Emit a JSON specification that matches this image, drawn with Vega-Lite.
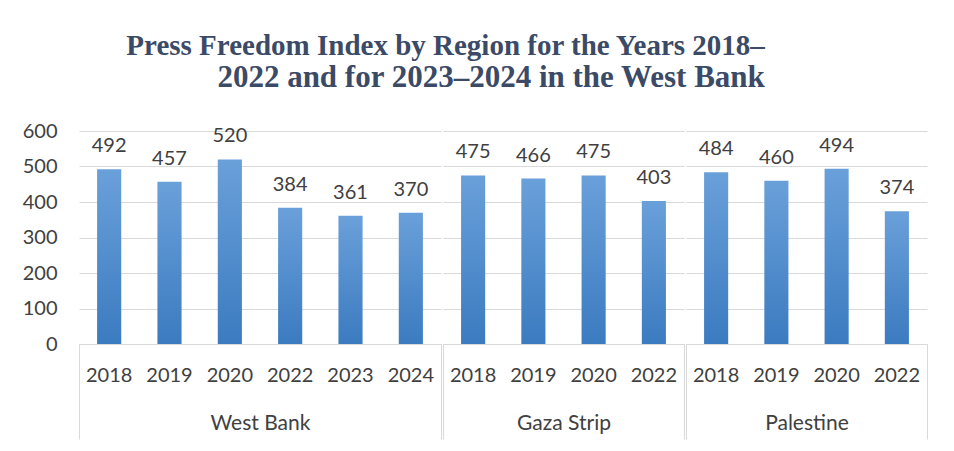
{
  "$schema": "https://vega.github.io/schema/vega-lite/v6.json",
  "background": "white",
  "padding": {"left": 22, "top": 32, "right": 25, "bottom": 10},
  "title": {
    "text": "Press Freedom Index by Region for the Years 2018–",
    "subtitle": "2022 and for 2023–2024 in the West Bank",
    "font": "Liberation Serif",
    "fontWeight": "bold",
    "fontSize": 29,
    "color": "#3b4a66",
    "subtitleFont": "Liberation Serif",
    "subtitleFontWeight": "bold",
    "subtitleFontSize": 31,
    "subtitleColor": "#3b4a66",
    "subtitlePadding": 2,
    "anchor": "middle",
    "align": "right",
    "dx": 290,
    "offset": 28
  },
  "datasets": {
    "d": [
      {"region": "West Bank", "year": "2018", "value": 492},
      {"region": "West Bank", "year": "2019", "value": 457},
      {"region": "West Bank", "year": "2020", "value": 520},
      {"region": "West Bank", "year": "2022", "value": 384},
      {"region": "West Bank", "year": "2023", "value": 361},
      {"region": "West Bank", "year": "2024", "value": 370},
      {"region": "Gaza Strip", "year": "2018", "value": 475},
      {"region": "Gaza Strip", "year": "2019", "value": 466},
      {"region": "Gaza Strip", "year": "2020", "value": 475},
      {"region": "Gaza Strip", "year": "2022", "value": 403},
      {"region": "Palestine", "year": "2018", "value": 484},
      {"region": "Palestine", "year": "2019", "value": 460},
      {"region": "Palestine", "year": "2020", "value": 494},
      {"region": "Palestine", "year": "2022", "value": 374}
    ]
  },
  "spacing": 0,
  "resolve": {"scale": {"y": "shared"}},
  "hconcat": [
    {
      "width": 362, "height": 213,
      "data": {"name": "d"},
      "transform": [{"filter": "datum.region === 'West Bank'"}],
      "layer": [
        {
          "encoding": {
            "x": {"field": "year", "type": "ordinal", "scale": {"type": "band", "paddingInner": 0.6, "paddingOuter": 0.3},
                  "axis": {"title": null, "orient": "bottom", "ticks": false, "domainColor": "#d9d9d9", "labelAngle": 0, "labelFont": "Lato", "labelFontSize": 20, "labelColor": "#404040", "labelPadding": 21}},
            "y": {"field": "value", "type": "quantitative", "scale": {"domain": [0, 600]},
                  "axis": {"title": null, "values": [0, 100, 200, 300, 400, 500, 600], "labelOverlap": false, "domain": false, "ticks": false, "gridColor": "#d9d9d9", "labelFont": "Lato", "labelFontSize": 20, "labelColor": "#404040", "labelPadding": 22}}
          },
          "layer": [
            {"mark": {"type": "bar", "color": {"gradient": "linear", "x1": 0, "y1": 0, "x2": 0, "y2": 1, "stops": [{"offset": 0, "color": "#6aa0da"}, {"offset": 1, "color": "#3b7bc0"}]}}},
            {"mark": {"type": "text", "font": "Lato", "fontSize": 20, "color": "#404040", "baseline": "alphabetic", "dy": -17}, "encoding": {"text": {"field": "value"}}}
          ]
        },
        {
          "mark": {"type": "rule", "opacity": 0},
          "encoding": {
            "x": {"field": "region", "type": "nominal", "scale": {"type": "band", "paddingInner": 0, "paddingOuter": 0},
                  "axis": {"title": null, "orient": "bottom", "domain": false, "ticks": true, "tickBand": "extent", "tickSize": 95, "tickColor": "#d9d9d9", "labelAngle": 0, "labelFont": "Lato", "labelFontSize": 21, "labelColor": "#404040", "labelPadding": -27}}
          }
        }
      ],
      "resolve": {"scale": {"x": "independent"}, "axis": {"x": "independent"}}
    },
    {
      "width": 241, "height": 213,
      "data": {"name": "d"},
      "transform": [{"filter": "datum.region === 'Gaza Strip'"}],
      "layer": [
        {
          "encoding": {
            "x": {"field": "year", "type": "ordinal", "scale": {"type": "band", "paddingInner": 0.6, "paddingOuter": 0.3},
                  "axis": {"title": null, "orient": "bottom", "ticks": false, "domainColor": "#d9d9d9", "labelAngle": 0, "labelFont": "Lato", "labelFontSize": 20, "labelColor": "#404040", "labelPadding": 21}},
            "y": {"field": "value", "type": "quantitative", "scale": {"domain": [0, 600]},
                  "axis": {"title": null, "values": [0, 100, 200, 300, 400, 500, 600], "domain": false, "ticks": false, "labels": false, "gridColor": "#d9d9d9"}}
          },
          "layer": [
            {"mark": {"type": "bar", "color": {"gradient": "linear", "x1": 0, "y1": 0, "x2": 0, "y2": 1, "stops": [{"offset": 0, "color": "#6aa0da"}, {"offset": 1, "color": "#3b7bc0"}]}}},
            {"mark": {"type": "text", "font": "Lato", "fontSize": 20, "color": "#404040", "baseline": "alphabetic", "dy": -17}, "encoding": {"text": {"field": "value"}}}
          ]
        },
        {
          "mark": {"type": "rule", "opacity": 0},
          "encoding": {
            "x": {"field": "region", "type": "nominal", "scale": {"type": "band", "paddingInner": 0, "paddingOuter": 0},
                  "axis": {"title": null, "orient": "bottom", "domain": false, "ticks": true, "tickBand": "extent", "tickSize": 95, "tickColor": "#d9d9d9", "labelAngle": 0, "labelFont": "Lato", "labelFontSize": 21, "labelColor": "#404040", "labelPadding": -27}}
          }
        }
      ],
      "resolve": {"scale": {"x": "independent"}, "axis": {"x": "independent"}}
    },
    {
      "width": 241, "height": 213,
      "data": {"name": "d"},
      "transform": [{"filter": "datum.region === 'Palestine'"}],
      "layer": [
        {
          "encoding": {
            "x": {"field": "year", "type": "ordinal", "scale": {"type": "band", "paddingInner": 0.6, "paddingOuter": 0.3},
                  "axis": {"title": null, "orient": "bottom", "ticks": false, "domainColor": "#d9d9d9", "labelAngle": 0, "labelFont": "Lato", "labelFontSize": 20, "labelColor": "#404040", "labelPadding": 21}},
            "y": {"field": "value", "type": "quantitative", "scale": {"domain": [0, 600]},
                  "axis": {"title": null, "values": [0, 100, 200, 300, 400, 500, 600], "domain": false, "ticks": false, "labels": false, "gridColor": "#d9d9d9"}}
          },
          "layer": [
            {"mark": {"type": "bar", "color": {"gradient": "linear", "x1": 0, "y1": 0, "x2": 0, "y2": 1, "stops": [{"offset": 0, "color": "#6aa0da"}, {"offset": 1, "color": "#3b7bc0"}]}}},
            {"mark": {"type": "text", "font": "Lato", "fontSize": 20, "color": "#404040", "baseline": "alphabetic", "dy": -17}, "encoding": {"text": {"field": "value"}}}
          ]
        },
        {
          "mark": {"type": "rule", "opacity": 0},
          "encoding": {
            "x": {"field": "region", "type": "nominal", "scale": {"type": "band", "paddingInner": 0, "paddingOuter": 0},
                  "axis": {"title": null, "orient": "bottom", "domain": false, "ticks": true, "tickBand": "extent", "tickSize": 95, "tickColor": "#d9d9d9", "labelAngle": 0, "labelFont": "Lato", "labelFontSize": 21, "labelColor": "#404040", "labelPadding": -27}}
          }
        }
      ],
      "resolve": {"scale": {"x": "independent"}, "axis": {"x": "independent"}}
    }
  ],
  "config": {"view": {"stroke": null}}
}
